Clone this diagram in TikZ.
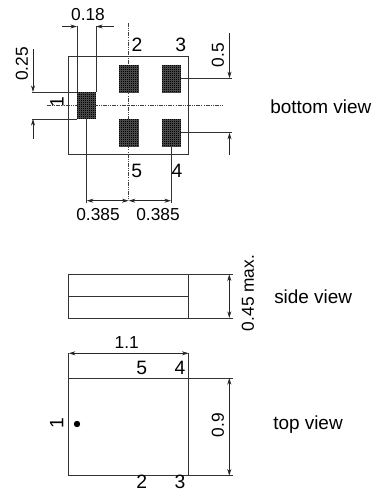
\documentclass[tikz,border=0pt]{standalone}
\usepackage{fontspec}
\setmainfont{Liberation Sans}
\usetikzlibrary{arrows.meta}
\tikzset{
  px/.style={x=0.75pt,y=-0.75pt},
  lbl/.style={inner sep=0pt,font=\fontsize{13pt}{15pt}\selectfont},
  pin/.style={inner sep=0pt,font=\fontsize{14.5pt}{16pt}\selectfont},
  word/.style={inner sep=0pt,anchor=west,font=\fontsize{14.2pt}{16pt}\selectfont},
  ln/.style={line width=0.6pt,draw=black!80},
  dim/.style={line width=0.6pt,draw=black!85,-{Stealth[length=5pt,width=3pt,inset=1.5pt]}},
  dimb/.style={line width=0.6pt,draw=black!85,{Stealth[length=5pt,width=3pt,inset=1.5pt]}-{Stealth[length=5pt,width=3pt,inset=1.5pt]}},
  ctr/.style={line width=0.5pt,draw=black!75,dash pattern=on 3pt off 0.8pt on 0.8pt off 0.8pt on 0.8pt off 0.8pt},
}
\newcommand{\padgrid}[4]{%
  \fill[black] (#1,#2) rectangle (#3,#4);
  \pgfmathsetmacro{\gxa}{#1+1.5}\pgfmathsetmacro{\gxb}{#1+3.5}
  \pgfmathsetmacro{\gya}{#2+1.5}\pgfmathsetmacro{\gyb}{#2+3.5}
  \foreach \gx in {\gxa,\gxb,...,#3}{\draw[black!72,line width=0.1pt] (\gx,#2) -- (\gx,#4);}
  \foreach \gy in {\gya,\gyb,...,#4}{\draw[black!72,line width=0.1pt] (#1,\gy) -- (#3,\gy);}
}
\begin{document}
\begin{tikzpicture}[px]
\useasboundingbox (0,0) rectangle (376,490);
% bottom view
\draw[ln] (68.7,56.7) rectangle (188.7,154.7);
\draw[ctr] (128.7,23) -- (128.7,200);
\draw[ctr] (47,105.7) -- (222.7,105.7);
\padgrid{77}{92}{96}{119}
\padgrid{119}{64.5}{138.5}{92.5}
\padgrid{161.5}{64.5}{180.5}{92.5}
\padgrid{119}{119}{138.5}{146.5}
\padgrid{161.5}{119}{180.5}{146.5}
% 0.18
\draw[ln] (77,26) -- (77,92);
\draw[ln] (96,26) -- (96,92);
\draw[dim] (62,26.5) -- (77,26.5);
\draw[dim] (113.7,26.5) -- (96,26.5);
\node[lbl] (t018) at (88,15) {0.18};
% 0.25
\draw[ln] (32,92) -- (77,92);
\draw[ln] (32,119) -- (77,119);
\draw[dim] (33,49) -- (33,92);
\draw[dim] (33,139) -- (33,119);
\node[lbl,rotate=90] (t025) at (22,64) {0.25};
\node[pin,rotate=90] (tb1) at (57,101.7) {1};
% 0.5
\draw[ln] (180,78.3) -- (231.7,78.3);
\draw[ln] (180,132.7) -- (231.7,132.7);
\draw[dim] (229.5,33) -- (229.5,78.3);
\draw[dim] (229.5,155) -- (229.5,132.7);
\node[lbl,rotate=90] (t05) at (218,55) {0.5};
% pin labels
\node[pin] (tb2) at (137,44.5) {2};
\node[pin] (tb3) at (180.7,44.5) {3};
\node[pin] (tb5) at (136.7,171) {5};
\node[pin] (tb4) at (177,171) {4};
% 0.385
\draw[ln] (86.7,119) -- (86.7,203);
\draw[ln] (171,146.5) -- (171,203);
\draw[dimb] (86.7,200.7) -- (128.7,200.7);
\draw[dimb] (128.7,200.7) -- (171,200.7);
\node[lbl] (t385a) at (98,215) {0.385};
\node[lbl] (t385b) at (158,215) {0.385};
\node[word] (tbottom) at (270,107) {bottom view};
% side view
\draw[ln] (68.7,274.3) rectangle (188.7,318);
\draw[ln] (68.7,296.3) -- (188.7,296.3);
\draw[ln] (188.7,274.3) -- (232.7,274.3);
\draw[ln] (188.7,318) -- (232.7,318);
\draw[dimb] (229.3,274.3) -- (229.3,318);
\node[lbl,rotate=90] (t045) at (248,293) {0.45 max.};
\node[word] (tside) at (274,297) {side view};
% top view
\draw[ln] (68.7,378) rectangle (188.7,475.7);
\draw[ln] (68.7,353) -- (68.7,378);
\draw[ln] (188.7,353) -- (188.7,378);
\draw[dimb] (68.7,353.3) -- (188.7,353.3);
\node[lbl] (t11) at (126.7,343) {1.1};
\draw[ln] (188.7,378) -- (232.7,378);
\draw[ln] (188.7,475.7) -- (232.7,475.7);
\draw[dimb] (229.3,378) -- (229.3,475.7);
\node[lbl,rotate=90] (t09) at (218,425) {0.9};
\node[pin] (tt5) at (141.7,368) {5};
\node[pin] (tt4) at (180,368) {4};
\node[pin] (tt2) at (141.7,481.5) {2};
\node[pin] (tt3) at (180,481.5) {3};
\node[pin,rotate=90] (tt1) at (56.7,423) {1};
\fill[black] (77,424) circle[radius=2.4pt];
\node[word] (ttop) at (273,425) {top view};
\end{tikzpicture}
\end{document}
